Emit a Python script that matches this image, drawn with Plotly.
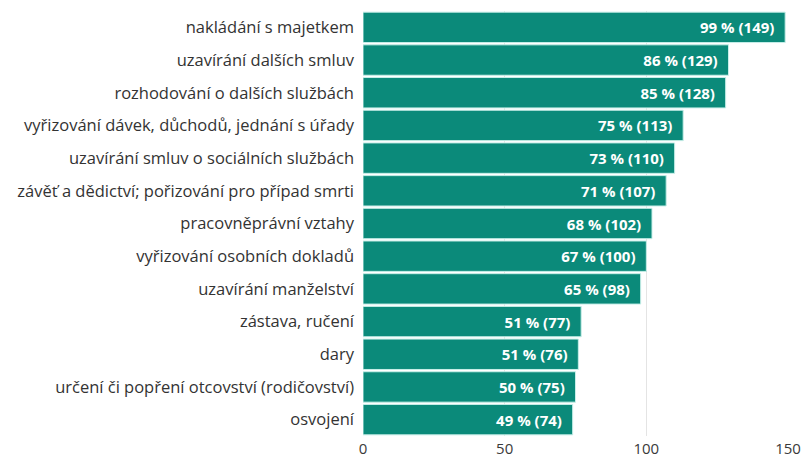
import plotly.graph_objects as go

categories = [
    "nakládání s majetkem",
    "uzavírání dalších smluv",
    "rozhodování o dalších službách",
    "vyřizování dávek, důchodů, jednání s úřady",
    "uzavírání smluv o sociálních službách",
    "závěť a dědictví; pořizování pro případ smrti",
    "pracovněprávní vztahy",
    "vyřizování osobních dokladů",
    "uzavírání manželství",
    "zástava, ručení",
    "dary",
    "určení či popření otcovství (rodičovství)",
    "osvojení",
]
counts = [149, 129, 128, 113, 110, 107, 102, 100, 98, 77, 76, 75, 74]
percents = [99, 86, 85, 75, 73, 71, 68, 67, 65, 51, 51, 50, 49]
x_ticks = [0, 50, 100, 150]

labels = [f"{p} % ({c})\u00a0\u00a0" for p, c in zip(percents, counts)]

fig = go.Figure(
    go.Bar(
        y=categories,
        x=counts,
        orientation="h",
        text=labels,
        textposition="inside",
        insidetextanchor="end",
        textfont=dict(color="white", size=15, family="Open Sans", weight="bold"),
        marker=dict(color="#0b8a7a", line=dict(color="#c8efe9", width=1)),
        cliponaxis=False,
    )
)

fig.update_layout(
    width=803,
    height=461,
    margin=dict(l=363, r=15, t=11, b=25),
    paper_bgcolor="white",
    plot_bgcolor="white",
    bargap=0.07,
    showlegend=False,
    font=dict(family="Open Sans", color="#333333", size=16),
    uniformtext=dict(minsize=15, mode="show"),
)
fig.update_xaxes(
    range=[0, 150],
    tickvals=x_ticks,
    showgrid=True,
    gridcolor="#e4e4e4",
    gridwidth=1,
    zeroline=False,
    showline=False,
    automargin=False,
    ticklabelstandoff=2,
    tickfont=dict(size=15, color="#3a3a3a"),
)
fig.update_yaxes(
    autorange="reversed",
    showgrid=False,
    ticks="",
    automargin=False,
    ticklabelstandoff=8,
    tickfont=dict(size=16.5, color="#333333"),
)

fig.write_html("out.html")
